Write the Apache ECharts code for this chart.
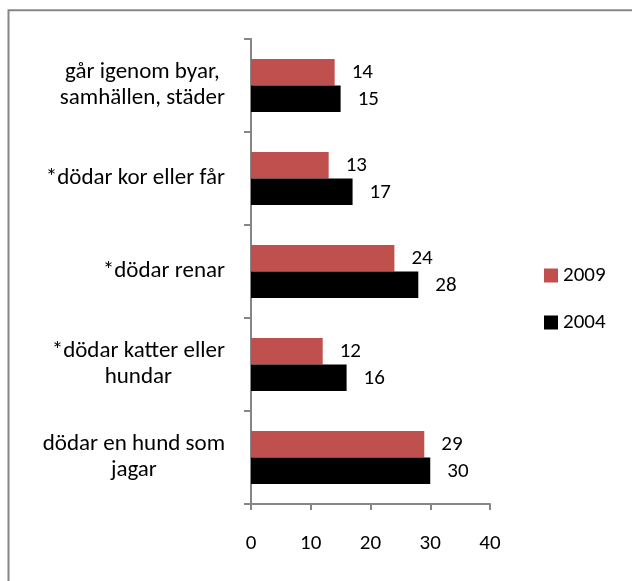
<!DOCTYPE html>
<html>
<head>
<meta charset="utf-8">
<script src="https://cdn.jsdelivr.net/npm/echarts@6/dist/echarts.min.js"></script>
<style>
html,body{margin:0;padding:0;background:#fff;}
#chart{width:632px;height:581px;}
</style>
</head>
<body>
<div id="chart"></div>
<script>
// Categories listed top to bottom
var categories = [
  "går igenom byar,\nsamhällen, städer",
  "*dödar kor eller får",
  "*dödar renar",
  "*dödar katter eller\nhundar",
  "dödar en hund som\njagar"
];
var values2009 = [14, 13, 24, 12, 29];
var values2004 = [15, 17, 28, 16, 30];
var seriesNames = ["2009", "2004"];
var xTicks = { min: 0, max: 40, interval: 10 };

var FONT = "Carlito, Lato, 'Open Sans', sans-serif";
var GRAY = "#868686";
var CAT_SIZE = 23;
var NUM_SIZE = 21;

var chart = echarts.init(document.getElementById('chart'), null, { renderer: 'canvas' });
chart.setOption({
  animation: false,
  backgroundColor: '#ffffff',
  textStyle: { fontFamily: FONT },
  graphic: [{
    type: 'rect',
    shape: { x: 8.5, y: 10.3, width: 700, height: 700 },
    style: { fill: 'none', stroke: GRAY, lineWidth: 2 },
    silent: true
  }],
  grid: { left: 251, right: 142, top: 39, bottom: 77, containLabel: false },
  legend: {
    data: seriesNames,
    orient: 'vertical',
    left: 544,
    top: 265,
    padding: 0,
    icon: 'rect',
    itemWidth: 14,
    itemHeight: 14,
    itemGap: 26,
    textStyle: { fontSize: NUM_SIZE, color: '#000', fontFamily: FONT, lineHeight: 20 }
  },
  xAxis: {
    type: 'value',
    min: xTicks.min,
    max: xTicks.max,
    interval: xTicks.interval,
    splitLine: { show: false },
    axisLine: { show: true, lineStyle: { color: GRAY, width: 2 } },
    axisTick: { show: true, length: 6, lineStyle: { color: GRAY, width: 2 } },
    axisLabel: { fontSize: NUM_SIZE, color: '#000', fontFamily: FONT, margin: 29 }
  },
  yAxis: {
    type: 'category',
    inverse: true,
    data: categories,
    axisLine: { show: true, lineStyle: { color: GRAY, width: 2 } },
    axisTick: { show: true, length: 7, lineStyle: { color: GRAY, width: 2 } },
    axisLabel: {
      margin: 26,
      fontSize: CAT_SIZE,
      lineHeight: 26,
      color: '#000',
      fontFamily: FONT,
      formatter: function (v) {
        return v.split('\n').map(function (l) { return '{c|' + l + '}'; }).join('\n');
      },
      rich: {
        c: { align: 'center', fontSize: CAT_SIZE, lineHeight: 26, color: '#000', fontFamily: FONT }
      }
    }
  },
  series: [
    {
      name: seriesNames[0],
      type: 'bar',
      data: values2009,
      itemStyle: { color: '#C0504D' },
      barGap: '0%',
      barCategoryGap: '43%',
      label: { show: true, position: 'right', distance: 17, color: '#000', fontSize: NUM_SIZE, fontFamily: FONT, offset: [0, 1] }
    },
    {
      name: seriesNames[1],
      type: 'bar',
      data: values2004,
      itemStyle: { color: '#000000' },
      barGap: '0%',
      barCategoryGap: '43%',
      label: { show: true, position: 'right', distance: 17, color: '#000', fontSize: NUM_SIZE, fontFamily: FONT, offset: [0, 1] }
    }
  ]
});
</script>
</body>
</html>
